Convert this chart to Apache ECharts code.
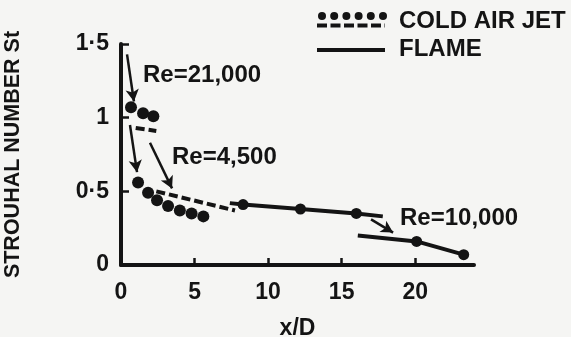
<!DOCTYPE html>
<html><head><meta charset="utf-8">
<script src="https://cdn.jsdelivr.net/npm/echarts@6/dist/echarts.min.js"></script>
<style>html,body{margin:0;padding:0;background:#f5f5f3}#c{width:571px;height:337px}</style>
</head><body><div id="c"></div>
<script>
const xTicks = [0, 5, 10, 15, 20];
const yTickLabels = {0: '0', 0.5: '0·5', 1: '1', 1.5: '1·5'};
const cold21Dots = [[0.68,1.07],[1.5,1.03],[2.2,1.01]];
const cold21Dash = [[1.0,0.93],[2.4,0.91]];
const cold4500Dots = [[1.16,0.56],[1.84,0.49],[2.45,0.44],[3.2,0.40],[4.0,0.37],[4.8,0.35],[5.6,0.33]];
const cold4500Dash = [[2.4,0.50],[7.75,0.37]];
const flameUpper = [[7.4,0.42],[8.3,0.41],[12.2,0.38],[16.0,0.35],[17.8,0.33]];
const flameUpperMarked = [false,true,true,true,false];
const flameLower = [[16.1,0.20],[20.1,0.16],[23.3,0.07]];
const flameLowerMarked = [false,true,true];
const arrows = [
  [[0.41,1.43],[0.88,1.11]],
  [[0.61,0.95],[1.09,0.63]],
  [[1.97,0.83],[3.47,0.52]],
  [[17.0,0.31],[18.5,0.22]]
];
const annotations = [
  {text:'Re=21,000', x:143, y:76},
  {text:'Re=4,500', x:172, y:158},
  {text:'Re=10,000', x:400, y:219}
];
const legendItems = ['COLD AIR JET', 'FLAME'];

const INK = '#141414';
const FONT = 'Liberation Sans';
const chart = echarts.init(document.getElementById('c'), null, {renderer:'canvas'});

function marked(arr, flags, size){
  return arr.map((p,i)=>({value:p, symbolSize: flags[i]?size:0}));
}

const legendGraphics = [];
for (let i=0;i<6;i++) legendGraphics.push({type:'circle', shape:{cx:322+i*12.2, cy:16, r:4}, style:{fill:INK}});
legendGraphics.push({type:'line', shape:{x1:317,y1:25.5,x2:385,y2:25.5}, style:{stroke:INK, lineWidth:4, lineDash:[10,3.5]}});
legendGraphics.push({type:'line', shape:{x1:317,y1:50,x2:385,y2:50}, style:{stroke:INK, lineWidth:4}});
legendGraphics.push({type:'text', left:399, top:9, style:{text:legendItems[0], font:'bold 24px "'+FONT+'"', fill:INK}});
legendGraphics.push({type:'text', left:399, top:37, style:{text:legendItems[1], font:'bold 24px "'+FONT+'"', fill:INK}});
annotations.forEach(a=>legendGraphics.push({type:'text', left:a.x, top:a.y-13, style:{text:a.text, font:'bold 24px "'+FONT+'"', fill:INK}}));

chart.setOption({
  backgroundColor:'#f5f5f3',
  animation:false,
  grid:{left:121, right:97, top:44, bottom:72, containLabel:false, outerBoundsMode:'none'},
  xAxis:{type:'value', min:0, max:24, interval:5,
    name:'x/D', nameLocation:'middle', nameGap:52,
    nameTextStyle:{fontFamily:FONT, fontWeight:'bold', fontSize:23, color:INK},
    axisLine:{lineStyle:{color:INK, width:4}},
    axisTick:{inside:true, length:7, lineStyle:{color:INK, width:2.5}},
    axisLabel:{margin:16, fontFamily:FONT, fontWeight:'bold', fontSize:23, color:INK, showMaxLabel:false,
      formatter:v=>xTicks.includes(v)?String(v):''},
    splitLine:{show:false}},
  yAxis:{type:'value', min:0, max:1.5, interval:0.5,
    name:'STROUHAL NUMBER St', nameLocation:'middle', nameGap:97, nameRotate:90,
    nameTextStyle:{fontFamily:FONT, fontWeight:'bold', fontSize:21.5, color:INK},
    axisLine:{lineStyle:{color:INK, width:4}},
    axisTick:{inside:true, length:8, lineStyle:{color:INK, width:2.5}},
    axisLabel:{margin:12, fontFamily:FONT, fontWeight:'bold', fontSize:23, color:INK,
      formatter:v=>yTickLabels[v]!==undefined?yTickLabels[v]:''},
    splitLine:{show:false}},
  graphic: legendGraphics,
  series:[
    {type:'scatter', data:cold21Dots, symbolSize:12, itemStyle:{color:INK, opacity:1}},
    {type:'line', data:cold21Dash, showSymbol:false, lineStyle:{color:INK, width:4, type:[9,4]}},
    {type:'scatter', data:cold4500Dots, symbolSize:12, itemStyle:{color:INK, opacity:1}},
    {type:'line', data:cold4500Dash, showSymbol:false, lineStyle:{color:INK, width:4, type:[9,4]}},
    {type:'line', data:marked(flameUpper, flameUpperMarked, 11), symbol:'circle', itemStyle:{color:INK}, lineStyle:{color:INK, width:4}},
    {type:'line', data:marked(flameLower, flameLowerMarked, 11), symbol:'circle', itemStyle:{color:INK}, lineStyle:{color:INK, width:4},
      markLine:{silent:true, symbol:['none','arrow'], symbolSize:[10,12], label:{show:false},
        lineStyle:{color:INK, width:2.5, type:'solid'},
        data: arrows.map(a=>[{coord:a[0]},{coord:a[1]}])}}
  ]
});
</script></body></html>
